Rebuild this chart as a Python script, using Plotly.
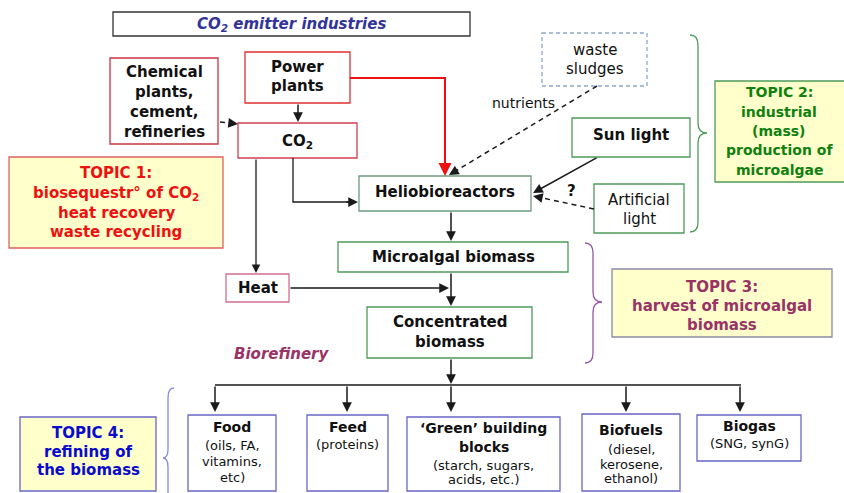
import plotly.graph_objects as go

# ---------------- text content ----------------
title_label = "CO<sub>2</sub> emitter industries"
emitter_labels = ["Chemical", "plants,", "cement,", "refineries"]
power_labels = ["Power", "plants"]
co2_label = "CO<sub>2</sub>"
waste_labels = ["waste", "sludges"]
nutrients_label = "nutrients"
sun_label = "Sun light"
artificial_labels = ["Artificial", "light"]
question_label = "?"
reactor_label = "Heliobioreactors"
microalgal_label = "Microalgal biomass"
heat_label = "Heat"
concentrated_labels = ["Concentrated", "biomass"]
biorefinery_label = "Biorefinery"
topic1_labels = ["TOPIC 1:", "biosequestr° of CO<sub>2</sub>", "heat recovery", "waste recycling"]
topic2_labels = ["TOPIC 2:", "industrial", "(mass)", "production of", "microalgae"]
topic3_labels = ["TOPIC 3:", "harvest of microalgal", "biomass"]
topic4_labels = ["TOPIC 4:", "refining of", "the biomass"]
product_titles = [["Food"], ["Feed"], ["‘Green’ building", "blocks"], ["Biofuels"], ["Biogas"]]
product_details = [["(oils, FA,", "vitamins,", "etc)"], ["(proteins)"],
                   ["(starch, sugars,", "acids, etc.)"], ["(diesel,", "kerosene,", "ethanol)"],
                   ["(SNG, synG)"]]

W, H = 844, 493
FONT = "DejaVu Sans"
GREEN = "#4f9a5a"
PURPLE = "#8a8aa6"
BLUE = "#6a66c8"
YELLOW = "#ffffcc"

fig = go.Figure()
shapes = []
annots = []


def box(x0, y0, x1, y1, color, fill="white", dash="solid", width=1.3):
    shapes.append(dict(type="rect", x0=x0, y0=y0, x1=x1, y1=y1, xref="x", yref="y",
                       line=dict(color=color, width=width, dash=dash), fillcolor=fill, layer="below"))


def text(x, y, s, size=15, color="#111", bold=True, italic=False):
    if bold:
        s = "<b>" + s + "</b>"
    if italic:
        s = "<i>" + s + "</i>"
    annots.append(dict(x=x, y=y, xref="x", yref="y", text=s, showarrow=False,
                       font=dict(family=FONT, size=size, color=color),
                       xanchor="center", yanchor="middle"))


def lines(x, ys, labels, **kw):
    for yy, lab in zip(ys, labels):
        text(x, yy, lab, **kw)


def head(x0, y0, x1, y1, color="#1a1a1a", width=1.5):
    annots.append(dict(x=x1, y=y1, ax=x0, ay=y0, xref="x", yref="y", axref="x", ayref="y",
                       text="", showarrow=True, arrowhead=2, arrowsize=1.3,
                       arrowwidth=width, arrowcolor=color, standoff=0))


def line(x0, y0, x1, y1, color="#1a1a1a", width=1.5, dash="solid"):
    shapes.append(dict(type="line", x0=x0, y0=y0, x1=x1, y1=y1, xref="x", yref="y",
                       line=dict(color=color, width=width, dash=dash)))


def dashed_arrow(x0, y0, x1, y1, color="#1a1a1a"):
    dx, dy = x1 - x0, y1 - y0
    n = (dx * dx + dy * dy) ** 0.5
    ux, uy = dx / n, dy / n
    line(x0, y0, x1 - ux * 8, y1 - uy * 8, color=color, dash="5px,4px")
    head(x1 - ux * 10, y1 - uy * 10, x1, y1, color=color)


def path(d, color, width=1.5):
    shapes.append(dict(type="path", path=d, xref="x", yref="y",
                       line=dict(color=color, width=width)))


# ---------------- boxes ----------------
box(113, 12, 470, 36, "#333333")
text(291, 24, title_label, size=15, color="#333399", italic=True)

box(110, 58, 218, 144, "#cc3344")
lines(164, [72, 92, 112, 132], emitter_labels)

box(245, 52, 350, 103, "#e03030")
lines(297, [67, 86], power_labels)

box(238, 123, 357, 158, "#d04050")
text(297, 141, co2_label)

box(542, 33, 647, 86, "#8aa8cc", dash="4px,3px")
lines(595, [50, 69], waste_labels, bold=False)
text(523, 103, nutrients_label, size=14, bold=False)

box(572, 118, 690, 157, GREEN)
text(631, 135, sun_label)

box(594, 184, 684, 233, GREEN)
lines(639, [200, 219], artificial_labels, bold=False)
text(571, 191, question_label)

box(359, 176, 531, 211, "#6a9a80")
text(445, 192, reactor_label)

box(9, 157, 223, 248, "#e06060", fill=YELLOW)
lines(116, [173, 193, 213, 232], topic1_labels, color="#ee1111")

box(715, 81, 860, 182, GREEN, fill=YELLOW)
lines(779, [92, 112, 131, 150, 170], topic2_labels, size=14, color="#108010")

box(338, 242, 568, 272, GREEN)
text(453, 257, microalgal_label)

box(226, 274, 289, 302, "#d07090")
text(258, 288, heat_label)

box(367, 307, 532, 358, GREEN)
lines(450, [322, 342], concentrated_labels)

text(282, 354, biorefinery_label, color="#993366", italic=True)

box(612, 269, 832, 337, PURPLE, fill=YELLOW)
lines(722, [287, 306, 325], topic3_labels, color="#993366")

box(20, 417, 156, 491, BLUE, fill=YELLOW)
lines(88, [433, 452, 470], topic4_labels, color="#0a0acc")

product_boxes = [(188, 415, 276, 491), (307, 415, 388, 491), (407, 417, 560, 491),
                 (582, 414, 680, 491), (697, 415, 801, 461)]
title_ys = [[427], [427], [428, 447], [430], [426]]
detail_ys = [[445, 461, 477], [444], [465, 479], [449, 464, 478], [443]]
for (x0, y0, x1, y1), tl, dl, tys, dys in zip(product_boxes, product_titles, product_details,
                                               title_ys, detail_ys):
    box(x0, y0, x1, y1, BLUE)
    cx = (x0 + x1) / 2
    lines(cx, tys, tl, size=14)
    lines(cx, dys, dl, size=13, bold=False)

# ---------------- braces ----------------
path("M 690,35 Q 698,35 698,45 L 698,123 Q 698,133 707,133 Q 698,133 698,143 "
     "L 698,222 Q 698,232 690,232", GREEN, 1.3)
path("M 585,243 Q 593,243 593,253 L 593,292 Q 593,302 602,302 Q 593,302 593,312 "
     "L 593,353 Q 593,363 585,363", "#9955aa", 1.3)
path("M 174,388 Q 168,388 168,398 L 168,449 Q 168,458 163,458 Q 168,458 168,467 "
     "L 168,500", "#8888dd", 1.3)

# ---------------- arrows ----------------
dashed_arrow(220, 122, 238, 124)
head(298, 103, 298, 122)
path("M 350,78 L 445,78 L 445,168", "#ee1111", 2)
head(445, 162, 445, 176, color="#ee1111", width=2)
dashed_arrow(597, 86, 449, 175)
head(598, 157, 533, 193)
dashed_arrow(594, 209, 533, 196)
path("M 293,158 L 293,202 L 350,202", "#1a1a1a", 1.3)
head(345, 202, 358, 202)
head(256, 158, 256, 273, width=1.3)
head(451, 211, 451, 241)
head(289, 288, 449, 288)
head(451, 272, 451, 306)
head(451, 358, 451, 384)
line(215, 385, 741, 385)
for xd in [215, 347, 451, 626, 740]:
    head(xd, 385, xd, 412)

fig.update_layout(
    width=W, height=H, margin=dict(l=0, r=0, t=0, b=0),
    paper_bgcolor="white", plot_bgcolor="white",
    xaxis=dict(range=[0, W], visible=False, fixedrange=True),
    yaxis=dict(range=[H, 0], visible=False, fixedrange=True),
    shapes=shapes, annotations=annots, showlegend=False,
)
fig.write_html("out.html", config={"displayModeBar": False},
               post_script="document.body.style.margin='0';document.body.style.overflow='hidden';")
